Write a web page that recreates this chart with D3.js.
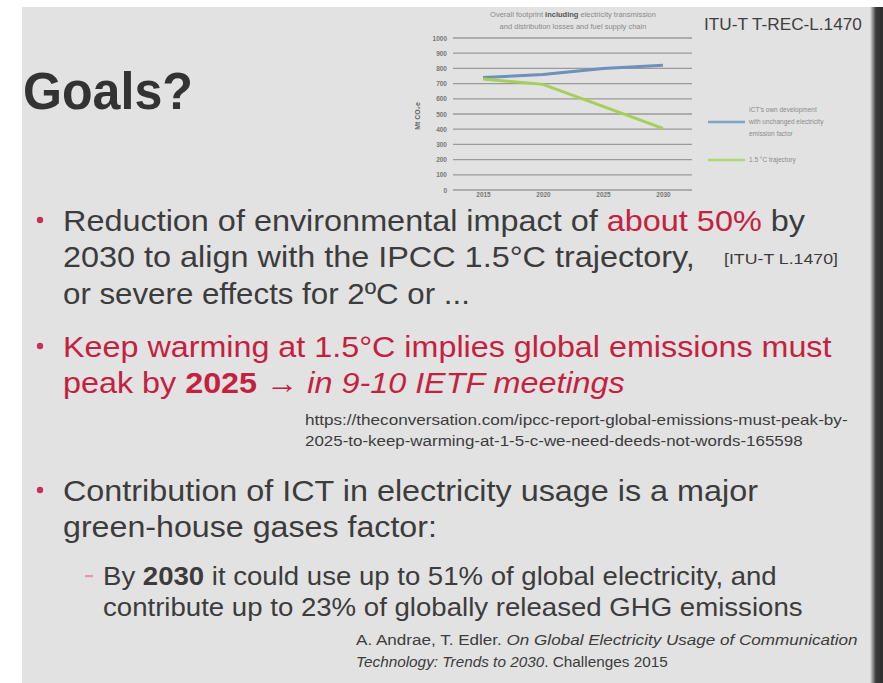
<!DOCTYPE html>
<html><head><meta charset="utf-8">
<script src="https://cdn.jsdelivr.net/npm/d3@7"></script>
<style>html,body{margin:0;padding:0;background:#fff;}svg{display:block;}</style>
</head><body>
<script>
// ---- data ----
const years = [2015, 2020, 2025, 2030];
const ictOwn = [740, 760, 800, 820];
const trajectory15 = [730, 695, 550, 405];
const yTicks = [0, 100, 200, 300, 400, 500, 600, 700, 800, 900, 1000];
const seriesNames = ["ICT's own development|with unchanged electricity|emission factor", "1.5 °C trajectory"];
const chartTitle = ["Overall footprint |including| electricity transmission", "and distribution losses and fuel supply chain"];

const W = 883, H = 683;
const svg = d3.select("body").append("svg").attr("width", W).attr("height", H);
const FONT = "'Liberation Sans', Arial, sans-serif";

// slide background
svg.append("rect").attr("x", 0).attr("y", 0).attr("width", W).attr("height", H).attr("fill", "#ffffff");
svg.append("rect").attr("x", 22).attr("y", 7).attr("width", 853).attr("height", H - 7).attr("fill", "#e2e2e2");
const grad = svg.append("defs").append("linearGradient").attr("id", "edge").attr("x1", 0).attr("x2", 1);
grad.append("stop").attr("offset", "0").attr("stop-color", "#e2e2e2");
grad.append("stop").attr("offset", "0.45").attr("stop-color", "#3a3a3a");
grad.append("stop").attr("offset", "1").attr("stop-color", "#2e2e2e");
svg.append("rect").attr("x", 870).attr("y", 7).attr("width", 13).attr("height", H - 7).attr("fill", "url(#edge)");

// ---- chart ----
const x = d3.scalePoint().domain(years).range([483, 663]);
const y = d3.scaleLinear().domain([0, 1000]).range([190, 38]);
const chart = svg.append("g");

// gridlines
chart.append("g").selectAll("line").data(yTicks).join("line")
  .attr("x1", 453).attr("x2", 692).attr("y1", d => y(d)).attr("y2", d => y(d))
  .attr("stroke", "#9a9a9a").attr("stroke-width", 1.3);

// y axis labels
const yAxis = d3.axisLeft(y).tickValues(yTicks).tickSize(0).tickPadding(0).tickFormat(d3.format("d"));
const gy = chart.append("g").attr("transform", "translate(447,0)").call(yAxis);
gy.select(".domain").remove();
gy.selectAll("text").attr("font-family", FONT).attr("font-size", 6.5).attr("fill", "#777").attr("font-weight", "bold");

// x axis labels
const xAxis = d3.axisBottom(x).tickSize(0).tickPadding(0).tickFormat(d3.format("d"));
const gx = chart.append("g").attr("transform", "translate(0,192)").call(xAxis);
gx.select(".domain").remove();
gx.selectAll("text").attr("font-family", FONT).attr("font-size", 6.5).attr("fill", "#777").attr("font-weight", "bold");

// y axis title
chart.append("text").attr("transform", "translate(420,116) rotate(-90)").attr("text-anchor", "middle")
  .attr("font-family", FONT).attr("font-size", 7).attr("fill", "#666").attr("font-weight", "bold").text("Mt CO₂e");

// title
chartTitle.forEach((t, i) => {
  const tx = chart.append("text").attr("x", 573).attr("y", 17 + i * 12).attr("text-anchor", "middle")
    .attr("font-family", FONT).attr("font-size", 7.5).attr("fill", "#8a8a8a");
  t.split("|").forEach((s, j) => tx.append("tspan").attr("font-weight", j === 1 ? "bold" : "normal")
    .attr("fill", j === 1 ? "#555" : "#8a8a8a").text(s));
});

// lines
const line = d3.line().x((d, i) => x(years[i])).y(d => y(d));
chart.append("path").datum(ictOwn).attr("d", line).attr("fill", "none").attr("stroke", "#6d90bd").attr("stroke-width", 3);
chart.append("path").datum(trajectory15).attr("d", line).attr("fill", "none").attr("stroke", "#a6cf55").attr("stroke-width", 3);

// legend
const legColors = ["#7ea3cc", "#b2d670"];
const legY = [122, 160];
seriesNames.forEach((n, i) => {
  chart.append("line").attr("x1", 708).attr("x2", 745).attr("y1", legY[i]).attr("y2", legY[i])
    .attr("stroke", legColors[i]).attr("stroke-width", 2.5);
  const parts = n.split("|");
  parts.forEach((p, k) => {
    chart.append("text").attr("x", 749).attr("y", legY[i] + 2 + (k - (parts.length - 1) / 2) * 12)
      .attr("font-family", FONT).attr("font-size", 6.5).attr("fill", "#8a8a8a").text(p);
  });
});

// ---- slide text ----
const DARK = "#3c3c3c", RED = "#c4213f";
function fitLine(spec) {
  const t = svg.append("text").attr("font-family", FONT).attr("font-size", spec.size).attr("fill", spec.fill || DARK)
    .attr("x", 0).attr("y", 0);
  spec.segs.forEach(s => {
    t.append("tspan").text(s.t)
      .attr("fill", s.fill || spec.fill || DARK)
      .attr("font-weight", s.b ? "bold" : "normal")
      .attr("font-style", s.i ? "italic" : "normal");
  });
  const w = t.node().getComputedTextLength();
  const sx = spec.w ? spec.w / w : 1;
  t.attr("transform", `translate(${spec.x},${spec.y}) scale(${sx},1)`);
}

const lines = [
  {x: 23, y: 109, w: 170, size: 51, segs: [{t: "Goals?", b: true}], fill: "#333"},
  {x: 704, y: 30, w: 158, size: 17, segs: [{t: "ITU-T T-REC-L.1470"}], fill: "#404040"},
  {x: 63, y: 231, w: 742, size: 30, segs: [{t: "Reduction of environmental impact of "}, {t: "about 50%", fill: RED}, {t: " by"}]},
  {x: 63, y: 267, w: 632, size: 30, segs: [{t: "2030 to align with the IPCC 1.5°C trajectory,"}]},
  {x: 724, y: 264, w: 114, size: 14, segs: [{t: "[ITU-T L.1470]"}]},
  {x: 63, y: 304, w: 407, size: 30, segs: [{t: "or severe effects for 2ºC or ..."}]},
  {x: 63, y: 357, w: 769, size: 30, fill: RED, segs: [{t: "Keep warming at 1.5°C implies global emissions must"}]},
  {x: 63, y: 393, w: 562, size: 30, fill: RED, segs: [{t: "peak by "}, {t: "2025", b: true}, {t: " → "}, {t: "in 9-10 IETF meetings", i: true}]},
  {x: 305, y: 425, w: 543, size: 15, segs: [{t: "https://theconversation.com/ipcc-report-global-emissions-must-peak-by-"}]},
  {x: 305, y: 446, w: 498, size: 15, segs: [{t: "2025-to-keep-warming-at-1-5-c-we-need-deeds-not-words-165598"}]},
  {x: 63, y: 501, w: 695, size: 30, segs: [{t: "Contribution of ICT in electricity usage is a major"}]},
  {x: 63, y: 537, w: 374, size: 30, segs: [{t: "green-house gases factor:"}]},
  {x: 103, y: 585, w: 674, size: 25.5, segs: [{t: "By "}, {t: "2030", b: true}, {t: " it could use up to 51% of global electricity, and"}]},
  {x: 103, y: 616, w: 700, size: 25.5, segs: [{t: "contribute up to 23% of globally released GHG emissions"}]},
  {x: 356, y: 645, w: 502, size: 15, segs: [{t: "A. Andrae, T. Edler. "}, {t: "On Global Electricity Usage of Communication", i: true}]},
  {x: 356, y: 667, w: 312, size: 15, segs: [{t: "Technology: Trends to 2030", i: true}, {t: ". Challenges 2015"}]}
];
lines.forEach(fitLine);

// bullets
[220, 346, 490].forEach(cy => svg.append("circle").attr("cx", 40).attr("cy", cy).attr("r", 3.2).attr("fill", "#c4325a"));
svg.append("rect").attr("x", 85).attr("y", 575).attr("width", 8).attr("height", 2.2).attr("fill", "#e09aa8");
</script>
</body></html>
